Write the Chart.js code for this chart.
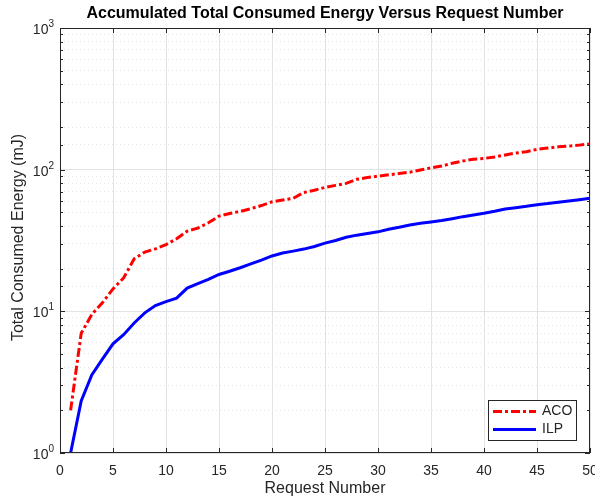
<!DOCTYPE html>
<html>
<head>
<meta charset="utf-8">
<script src="https://cdn.jsdelivr.net/npm/chart.js@4"></script>
<style>
  html, body { margin: 0; padding: 0; background: #fff; }
  #wrap { width: 595px; height: 499px; position: relative; }
</style>
</head>
<body>
<div id="wrap"><canvas id="energyChart"></canvas></div>
<script>
// request numbers (x axis)
var requests = [
  1, 2, 3, 4, 5, 6, 7, 8, 9, 10,
  11, 12, 13, 14, 15, 16, 17, 18, 19, 20,
  21, 22, 23, 24, 25, 26, 27, 28, 29, 30,
  31, 32, 33, 34, 35, 36, 37, 38, 39, 40,
  41, 42, 43, 44, 45, 46, 47, 48, 49, 50];

// accumulated energy (mJ)
var acoEnergy = [
  2.0, 7.0, 9.5, 11.5, 14.4, 17.2, 23.5, 26.2, 27.6, 29.6,
  32.5, 36.8, 38.7, 42.2, 47.0, 49.1, 50.7, 53.0, 55.8, 59.3,
  61.0, 62.7, 69.0, 71.5, 75.0, 77.5, 80.0, 85.5, 88.0, 90.0,
  92.0, 94.0, 96.0, 99.5, 103, 106, 111, 115, 118.5, 120,
  123, 127, 131, 134, 139, 142, 145, 146.5, 149, 152];
var ilpEnergy = [
  1.0, 2.33, 3.56, 4.6, 5.9, 6.84, 8.28, 9.75, 11.0, 11.7,
  12.4, 14.6, 15.7, 16.8, 18.2, 19.2, 20.3, 21.6, 23.0, 24.6,
  25.8, 26.6, 27.5, 28.7, 30.3, 31.6, 33.3, 34.5, 35.4, 36.4,
  38.0, 39.2, 40.7, 41.8, 42.7, 43.7, 45.1, 46.6, 47.9, 49.2,
  50.8, 52.8, 53.9, 55.1, 56.6, 57.6, 58.9, 60.2, 61.4, 62.8];

var xTicks = [0, 5, 10, 15, 20, 25, 30, 35, 40, 45, 50];
var yDecades = [1, 10, 100, 1000];

var axisColor = "#262626";
var fontName = "'Liberation Sans', Arial, sans-serif";

function isDecade(v) {
  var l = Math.log10(v);
  return Math.abs(l - Math.round(l)) < 1e-9;
}

// MATLAB-like axes: box, inward ticks, text labels, legend inside
var matlabAxes = {
  id: "matlabAxes",
  afterDatasetsDraw: function (chart) {
    var ctx = chart.ctx;
    var area = chart.chartArea;
    var xs = chart.scales.x;
    var ys = chart.scales.y;
    ctx.save();

    // box
    ctx.strokeStyle = axisColor;
    ctx.lineWidth = 1;
    ctx.strokeRect(area.left + 0.5, area.top + 0.5, area.right - area.left - 1, area.bottom - area.top - 1);

    // x ticks (bottom and top, pointing in)
    ctx.beginPath();
    xTicks.forEach(function (t) {
      var px = Math.round(xs.getPixelForValue(t)) + 0.5;
      ctx.moveTo(px, area.bottom);
      ctx.lineTo(px, area.bottom - 5);
      ctx.moveTo(px, area.top);
      ctx.lineTo(px, area.top + 5);
    });
    // y ticks (left and right), major longer than minor
    ys.ticks.forEach(function (t) {
      var py = Math.round(ys.getPixelForValue(t.value)) + 0.5;
      var len = isDecade(t.value) ? 5 : 3;
      ctx.moveTo(area.left, py);
      ctx.lineTo(area.left + len, py);
      ctx.moveTo(area.right, py);
      ctx.lineTo(area.right - len, py);
    });
    ctx.stroke();

    // x tick labels
    ctx.fillStyle = axisColor;
    ctx.font = "14px " + fontName;
    ctx.textAlign = "center";
    ctx.textBaseline = "middle";
    xTicks.forEach(function (t) {
      ctx.fillText(String(t), xs.getPixelForValue(t), area.bottom + 18);
    });

    // y tick labels as 10^n
    yDecades.forEach(function (v) {
      var py = ys.getPixelForValue(v);
      var exp = String(Math.round(Math.log10(v)));
      var right = area.left - 6;
      ctx.font = "10px " + fontName;
      var ew = ctx.measureText(exp).width;
      ctx.textAlign = "left";
      ctx.textBaseline = "alphabetic";
      ctx.fillText(exp, right - ew, py - 1);
      ctx.font = "14px " + fontName;
      ctx.textAlign = "right";
      ctx.fillText("10", right - ew, py + 6);
    });

    // axis titles
    ctx.font = "16px " + fontName;
    ctx.textAlign = "center";
    ctx.textBaseline = "middle";
    ctx.fillText("Request Number", (area.left + area.right) / 2, 489);
    ctx.save();
    ctx.translate(19, (area.top + area.bottom) / 2 - 3);
    ctx.rotate(-Math.PI / 2);
    ctx.fillText("Total Consumed Energy (mJ)", 0, 0);
    ctx.restore();

    // title
    ctx.fillStyle = "#000";
    ctx.font = "bold 16px " + fontName;
    ctx.fillText("Accumulated Total Consumed Energy Versus Request Number", (area.left + area.right) / 2, 14);

    // legend
    var lx = area.right - 102, ly = area.bottom - 53, lw = 88, lh = 40;
    ctx.fillStyle = "#fff";
    ctx.fillRect(lx, ly, lw, lh);
    ctx.strokeStyle = axisColor;
    ctx.lineWidth = 1;
    ctx.strokeRect(lx + 0.5, ly + 0.5, lw, lh);
    chart.data.datasets.forEach(function (ds, i) {
      var yy = ly + 11.5 + i * 18;
      ctx.save();
      ctx.strokeStyle = ds.borderColor;
      ctx.lineWidth = ds.borderWidth;
      ctx.setLineDash(ds.borderDash || []);
      ctx.beginPath();
      ctx.moveTo(lx + 5, yy);
      ctx.lineTo(lx + 48, yy);
      ctx.stroke();
      ctx.restore();
      ctx.fillStyle = axisColor;
      ctx.font = "14px " + fontName;
      ctx.textAlign = "left";
      ctx.textBaseline = "middle";
      ctx.fillText(ds.label, lx + 54, yy);
    });

    ctx.restore();
  }
};

var config = {
  type: "line",
  data: {
    labels: requests,
    datasets: [
      {
        label: "ACO",
        data: acoEnergy,
        borderColor: "#ff0000",
        borderWidth: 3,
        borderDash: [9, 3, 3, 3],
        pointRadius: 0,
        tension: 0,
        fill: false
      },
      {
        label: "ILP",
        data: ilpEnergy,
        borderColor: "#0000ff",
        borderWidth: 3,
        pointRadius: 0,
        tension: 0,
        fill: false
      }
    ]
  },
  options: {
    responsive: true,
    maintainAspectRatio: false,
    animation: false,
    layout: { padding: { left: 60, right: 5, top: 28, bottom: 46 } },
    plugins: {
      legend: { display: false },
      title: { display: false },
      tooltip: { enabled: false }
    },
    scales: {
      x: {
        type: "linear",
        min: 0,
        max: 50,
        ticks: { display: false, stepSize: 5 },
        grid: { color: "#e3e3e3", drawTicks: false, lineWidth: 1 },
        border: { display: false }
      },
      y: {
        type: "logarithmic",
        min: 1,
        max: 1000,
        ticks: { display: false },
        grid: {
          drawTicks: false,
          lineWidth: 1,
          color: function (c) {
            return c.tick && isDecade(c.tick.value) ? "#e3e3e3" : "#e6e6e6";
          }
        },
        border: {
          display: false,
          dash: function (c) {
            return c.tick && isDecade(c.tick.value) ? [] : [1, 3];
          }
        }
      }
    }
  },
  plugins: [matlabAxes]
};

var energyChart = new Chart(document.getElementById("energyChart"), config);
</script>
</body>
</html>
